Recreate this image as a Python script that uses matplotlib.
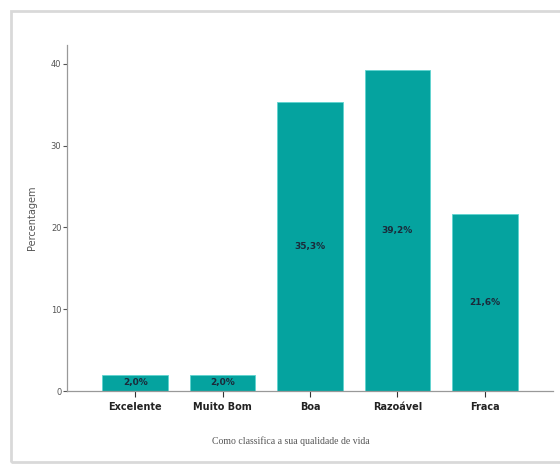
import matplotlib.pyplot as plt
from matplotlib.patches import Rectangle

# data
categorias = ["Excelente", "Muito Bom", "Boa", "Razoável", "Fraca"]
percentagens = [2.0, 2.0, 35.3, 39.2, 21.6]
rotulos = ["2,0%", "2,0%", "35,3%", "39,2%", "21,6%"]
y_ticks = [0, 10, 20, 30, 40]

fig = plt.figure(figsize=(5.6, 4.68), dpi=100)
ax = fig.add_axes([0.1196, 0.1645, 0.8679, 0.7393])

# light frame around the chart
fig.patches.append(Rectangle((11 / 560, 6 / 468), 0.99, 451 / 468, transform=fig.transFigure,
                             fill=False, edgecolor="#d9d9d9", linewidth=2))

x = range(len(categorias))
bars = ax.bar(x, percentagens, width=0.75, color="#05a39f", edgecolor="#5fd4d0", linewidth=0.6)

# value labels in the middle of each bar
for b, txt in zip(bars, rotulos):
    ax.text(b.get_x() + b.get_width() / 2, b.get_height() / 2, txt,
            ha="center", va="center", fontsize=6.5, fontweight="bold", color="#1b2a3a")

ax.set_xlim(-0.78, 4.78)
ax.set_ylim(0, 42.3)
ax.set_xticks(list(x))
ax.set_xticklabels(categorias, fontsize=7, fontweight="bold", color="#222222")
ax.set_yticks(y_ticks)
ax.set_yticklabels([str(v) for v in y_ticks], fontsize=6, color="#555555")

ax.tick_params(axis="x", length=4, width=0.8, color="#333333", pad=4)
ax.tick_params(axis="y", length=3, width=0.8, color="#555555", pad=1)

for s in ["top", "right"]:
    ax.spines[s].set_visible(False)
for s in ["left", "bottom"]:
    ax.spines[s].set_color("#999999")
    ax.spines[s].set_linewidth(0.9)

ax.set_ylabel("Percentagem", fontsize=7, color="#555555", labelpad=10)
ax.set_xlabel("Como classifica a sua qualidade de vida", fontsize=7, color="#555555",
              family="Liberation Serif", labelpad=26)
ax.xaxis.set_label_coords(0.46, -0.13)

fig.savefig("out.png", dpi=100)
